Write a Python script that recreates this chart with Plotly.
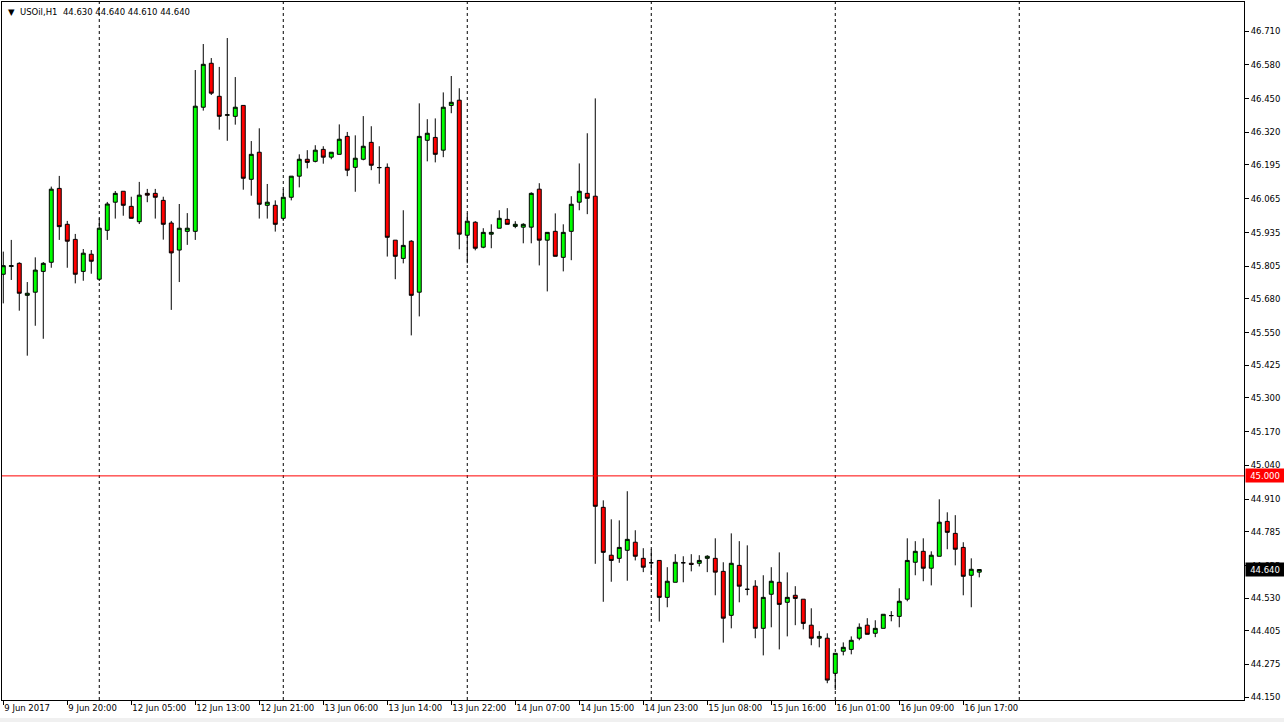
import plotly.graph_objects as go

# ---------------- data (USOil, H1) ----------------
bar_index = list(range(123))

open_ = [45.775, 45.805, 45.817, 45.694, 45.706, 45.786, 45.821, 46.105, 45.967, 45.909,
         45.786, 45.852, 45.756, 45.944, 46.052, 46.094, 46.036, 45.977, 46.086, 46.086,
         46.059, 45.972, 45.868, 45.940, 45.940, 46.417, 46.586, 46.459, 46.386, 46.382,
         46.424, 46.140, 46.244, 46.040, 46.040, 45.990, 46.071, 46.152, 46.217, 46.209,
         46.255, 46.225, 46.236, 46.305, 46.186, 46.217, 46.282, 46.185, 46.186, 45.906,
         45.836, 45.902, 45.706, 46.290, 46.301, 46.252, 46.424, 46.444, 45.925, 45.975,
         45.879, 45.929, 45.952, 45.986, 45.959, 45.956, 45.956, 46.102, 45.906, 45.940,
         45.840, 45.940, 46.052, 46.086, 46.075, 44.879, 44.695, 44.683, 44.714, 44.745,
         44.683, 44.666, 44.675, 44.533, 44.591, 44.666, 44.664, 44.664, 44.683, 44.683,
         44.633, 44.464, 44.656, 44.564, 44.576, 44.414, 44.545, 44.591, 44.514, 44.541,
         44.526, 44.426, 44.376, 44.376, 44.241, 44.326, 44.333, 44.376, 44.426, 44.395,
         44.414, 44.463, 44.460, 44.526, 44.668, 44.710, 44.645, 44.691, 44.825, 44.779,
         44.725, 44.618, 44.630]
high = [45.862, 45.907, 45.821, 45.745, 45.840, 45.822, 46.112, 46.153, 45.980, 45.930,
        45.872, 45.868, 45.990, 46.053, 46.095, 46.094, 46.073, 46.130, 46.103, 46.103,
        46.073, 45.980, 46.045, 46.010, 46.560, 46.660, 46.606, 46.572, 46.683, 46.533,
        46.424, 46.287, 46.336, 46.122, 46.059, 46.102, 46.152, 46.236, 46.252, 46.271,
        46.267, 46.244, 46.351, 46.322, 46.309, 46.383, 46.344, 46.267, 46.201, 45.906,
        46.021, 45.906, 46.432, 46.371, 46.374, 46.474, 46.537, 46.490, 46.009, 45.979,
        45.952, 45.967, 46.021, 46.029, 45.979, 45.971, 46.090, 46.125, 45.936, 46.009,
        45.967, 46.075, 46.201, 46.317, 46.451, 44.906, 44.833, 44.829, 44.941, 44.791,
        44.722, 44.718, 44.675, 44.649, 44.699, 44.691, 44.699, 44.695, 44.695, 44.760,
        44.668, 44.779, 44.749, 44.733, 44.599, 44.618, 44.649, 44.706, 44.629, 44.576,
        44.526, 44.491, 44.403, 44.395, 44.318, 44.360, 44.383, 44.433, 44.453, 44.445,
        44.468, 44.480, 44.568, 44.760, 44.749, 44.760, 44.710, 44.910, 44.860, 44.849,
        44.745, 44.683, 44.640]
low = [45.663, 45.753, 45.635, 45.462, 45.577, 45.527, 45.800, 45.907, 45.800, 45.740,
       45.750, 45.777, 45.749, 45.907, 45.989, 46.000, 45.990, 45.968, 46.052, 45.989,
       45.908, 45.638, 45.745, 45.888, 45.907, 46.404, 46.464, 46.331, 46.288, 46.350,
       46.100, 46.077, 45.989, 45.989, 45.939, 45.980, 46.059, 46.109, 46.182, 46.205,
       46.200, 46.217, 46.236, 46.152, 46.092, 46.213, 46.175, 46.123, 45.843, 45.756,
       45.817, 45.540, 45.613, 46.209, 46.205, 46.225, 46.394, 45.871, 45.817, 45.867,
       45.875, 45.875, 45.952, 45.967, 45.952, 45.894, 45.894, 45.809, 45.709, 45.844,
       45.786, 45.829, 46.021, 46.006, 44.662, 44.516, 44.593, 44.666, 44.597, 44.675,
       44.630, 44.619, 44.440, 44.495, 44.591, 44.591, 44.633, 44.652, 44.630, 44.541,
       44.359, 44.414, 44.514, 44.541, 44.376, 44.310, 44.418, 44.333, 44.383, 44.426,
       44.410, 44.349, 44.341, 44.203, 44.177, 44.310, 44.314, 44.368, 44.391, 44.380,
       44.414, 44.441, 44.418, 44.518, 44.618, 44.595, 44.579, 44.691, 44.718, 44.656,
       44.541, 44.495, 44.610]
close = [45.808, 45.808, 45.702, 45.702, 45.791, 45.817, 46.102, 45.958, 45.902, 45.775,
         45.856, 45.825, 45.952, 46.045, 46.086, 46.040, 45.990, 46.079, 46.079, 46.071,
         45.967, 45.857, 45.952, 45.952, 46.421, 46.582, 46.471, 46.382, 46.388, 46.417,
         46.144, 46.236, 46.044, 46.052, 45.967, 46.071, 46.152, 46.217, 46.205, 46.252,
         46.225, 46.244, 46.294, 46.175, 46.221, 46.267, 46.194, 46.185, 45.917, 45.844,
         45.886, 45.694, 46.305, 46.317, 46.236, 46.417, 46.436, 45.929, 45.979, 45.875,
         45.936, 45.936, 45.990, 45.967, 45.967, 45.967, 46.086, 45.906, 45.936, 45.844,
         45.936, 46.044, 46.094, 46.067, 44.883, 44.706, 44.675, 44.725, 44.756, 44.691,
         44.649, 44.666, 44.533, 44.595, 44.668, 44.666, 44.660, 44.675, 44.691, 44.630,
         44.453, 44.664, 44.576, 44.564, 44.414, 44.533, 44.595, 44.506, 44.533, 44.529,
         44.433, 44.376, 44.383, 44.215, 44.318, 44.341, 44.368, 44.418, 44.391, 44.414,
         44.468, 44.463, 44.518, 44.675, 44.710, 44.645, 44.695, 44.822, 44.783, 44.718,
         44.614, 44.641, 44.640]

time_tick_bars = [0, 8, 16, 24, 32, 40, 48, 56, 64, 72, 80, 88, 96, 104, 112, 120]
time_tick_labels = ["9 Jun 2017", "9 Jun 20:00", "12 Jun 05:00", "12 Jun 13:00",
                    "12 Jun 21:00", "13 Jun 06:00", "13 Jun 14:00", "13 Jun 22:00",
                    "14 Jun 07:00", "14 Jun 15:00", "14 Jun 23:00", "15 Jun 08:00",
                    "15 Jun 16:00", "16 Jun 01:00", "16 Jun 09:00", "16 Jun 17:00"]
separator_bars = [12, 35, 58, 81, 104, 127]

price_ticks = [46.710, 46.580, 46.450, 46.320, 46.195, 46.065, 45.935, 45.805, 45.680,
               45.550, 45.425, 45.300, 45.170, 45.040, 44.910, 44.785, 44.655, 44.530,
               44.405, 44.275, 44.150]
price_tick_labels = [f"{v:.3f}" for v in price_ticks]

level_price = 45.000
last_price = 44.640
title_text = "USOil,H1\u00a0\u00a044.630 44.640 44.610 44.640"

FONT = "DejaVu Sans"
FS = 8.5

fig = go.Figure()
fig.add_trace(go.Candlestick(
    x=bar_index, open=open_, high=high, low=low, close=close,
    increasing=dict(fillcolor="#00FF00", line=dict(color="#000000", width=1)),
    decreasing=dict(fillcolor="#FF0000", line=dict(color="#000000", width=1)),
    whiskerwidth=0, hoverinfo="skip", showlegend=False,
))

# period separators (dotted verticals)
for b in separator_bars:
    fig.add_shape(type="line", xref="x", yref="paper", x0=b, x1=b, y0=0, y1=1,
                  line=dict(color="#000000", width=1, dash="3px,3px"), layer="below")

# 45.000 level line
fig.add_shape(type="line", xref="paper", yref="y", x0=0, x1=1, y0=level_price, y1=level_price,
              line=dict(color="#FF0000", width=1), layer="above")

# bottom grey strip of the window
fig.add_shape(type="rect", xref="paper", yref="paper", x0=-0.01, x1=1.05,
              y0=-0.0315, y1=-0.0258, fillcolor="#F0F0F0", line=dict(width=0), layer="below")

# price labels on axis
fig.add_annotation(xref="paper", yref="y", x=1, y=level_price, xanchor="left", yanchor="middle",
                   xshift=1, text=f"{level_price:.3f}", showarrow=False, bgcolor="#FF0000",
                   font=dict(family=FONT, size=FS, color="#FFFFFF"), width=36, height=11, borderpad=1)
fig.add_annotation(xref="paper", yref="y", x=1, y=last_price, xanchor="left", yanchor="middle",
                   xshift=1, text=f"{last_price:.3f}", showarrow=False, bgcolor="#000000",
                   font=dict(family=FONT, size=FS, color="#FFFFFF"), width=36, height=11, borderpad=1)

# title (top-left)
fig.add_annotation(xref="paper", yref="paper", x=0.003, y=0.986, xanchor="left", yanchor="middle",
                   text="\u25bc\u00a0\u00a0" + title_text, showarrow=False,
                   font=dict(family=FONT, size=FS, color="#000000"))

fig.update_layout(
    width=1284, height=722,
    margin=dict(l=2, r=40, t=2, b=22),
    paper_bgcolor="#FFFFFF", plot_bgcolor="#FFFFFF",
    font=dict(family=FONT, size=FS, color="#000000"),
    hovermode=False, showlegend=False,
    xaxis=dict(range=[-0.16, 155.09], rangeslider=dict(visible=False),
               tickmode="array", tickvals=time_tick_bars, ticktext=time_tick_labels,
               ticks="outside", ticklen=4, tickcolor="#000000",
               ticklabelposition="outside right",
               showgrid=False, zeroline=False, showline=True, linecolor="#000000",
               linewidth=1, mirror=True, fixedrange=True),
    yaxis=dict(range=[44.1385, 46.8215], side="right", tickmode="array",
               tickvals=price_ticks, ticktext=price_tick_labels,
               ticks="outside", ticklen=4, tickcolor="#000000",
               showgrid=False, zeroline=False, showline=True, linecolor="#000000",
               linewidth=1, mirror=True, fixedrange=True),
)

fig.write_html(
    "out.html",
    config={"displayModeBar": False, "staticPlot": True},
    post_script="document.body.style.margin='0';document.body.style.overflow='hidden';",
)
